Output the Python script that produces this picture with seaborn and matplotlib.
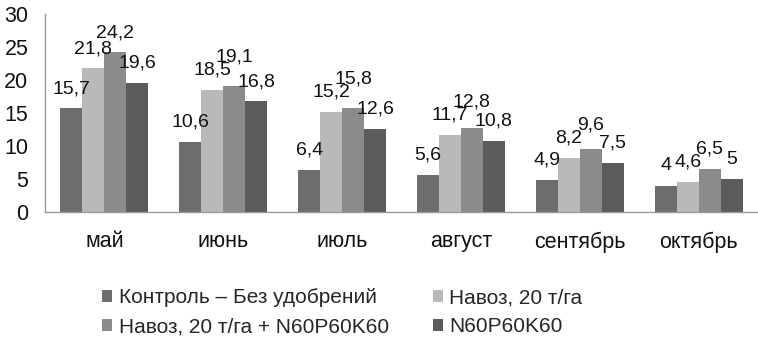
import pandas as pd
import seaborn as sns
import matplotlib.pyplot as plt

months = ["май", "июнь", "июль", "август", "сентябрь", "октябрь"]
series = ["Контроль – Без удобрений", "Навоз, 20 т/га",
          "Навоз, 20 т/га + N60P60K60", "N60P60K60"]
control = [15.7, 10.6, 6.4, 5.6, 4.9, 4.0]
manure = [21.8, 18.5, 15.2, 11.7, 8.2, 4.6]
manure_npk = [24.2, 19.1, 15.8, 12.8, 9.6, 6.5]
npk = [19.6, 16.8, 12.6, 10.8, 7.5, 5.0]
colors = ["#6d6d6d", "#b9b9b9", "#8b8b8b", "#5b5b5b"]

rows = []
for name, vals in zip(series, [control, manure, manure_npk, npk]):
    for m, v in zip(months, vals):
        rows.append({"month": m, "series": name, "value": v})
df = pd.DataFrame(rows)

sns.set_style("white")
plt.rcParams['font.family'] = ['Liberation Sans', 'DejaVu Sans']

fig = plt.figure(figsize=(7.58, 3.5), dpi=100)
ax = fig.add_axes([45 / 758, 138 / 350, 713 / 758, 198 / 350])
sns.barplot(data=df, x="month", y="value", hue="series", palette=colors,
            width=0.74, saturation=1, ax=ax, linewidth=0)

def fmt(v):
    s = f"{v:.1f}".replace(".", ",")
    return s[:-2] if s.endswith(",0") else s

label_sets = []
for cont in ax.containers:
    label_sets.append(ax.bar_label(cont, labels=[fmt(b.get_height()) for b in cont],
                                   padding=8, fontsize=14, color="#111111"))

ax.set_xlim(-0.5, 5.5)
ax.set_ylim(0, 30)
ax.set_yticks(range(0, 31, 5))
ax.set_xlabel("")
ax.set_ylabel("")
ax.tick_params(axis="both", labelsize=15.5, length=0, colors="#111111")
ax.tick_params(axis="x", pad=14)
ax.tick_params(axis="y", pad=12)
for s in ["top", "right"]:
    ax.spines[s].set_visible(False)
for s in ["left", "bottom"]:
    ax.spines[s].set_color("#999999")
    ax.spines[s].set_linewidth(1)

# nudge a label up when it collides with its left neighbour in the group
fig.canvas.draw()
for j in range(len(months)):
    for i in range(1, len(label_sets)):
        prev, cur = label_sets[i - 1][j], label_sets[i][j]
        bp, bc = prev.get_window_extent(), cur.get_window_extent()
        if bc.x0 < bp.x1 - 1 and bc.y0 < bp.y1 - 4 and bc.y1 > bp.y0:
            dy = (bp.y1 - 4 - bc.y0) * 72 / fig.dpi
            ox, oy = cur.xyann
            cur.xyann = (ox, oy + dy)
            fig.canvas.draw()

# row-major legend order like the original
handles, labels = ax.get_legend_handles_labels()
order = [0, 2, 1, 3]
ax.legend_.remove()
fig.legend([handles[i] for i in order], [labels[i] for i in order],
           loc="upper left", bbox_to_anchor=(102 / 758, 1 - 288 / 350), ncol=2,
           frameon=False, fontsize=15, handlelength=0.5, handleheight=0.5,
           handletextpad=0.3, columnspacing=2.1, labelspacing=0.5,
           borderaxespad=0, borderpad=0)

fig.savefig("out.png", dpi=100)
